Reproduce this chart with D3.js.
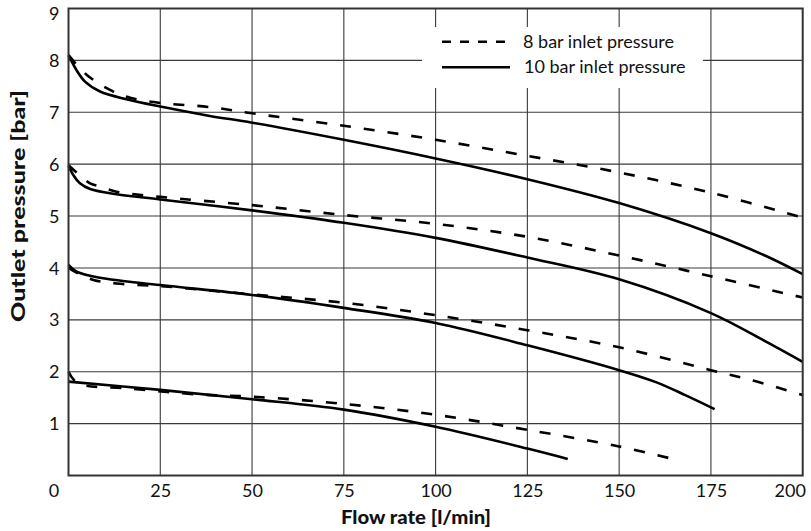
<!DOCTYPE html>
<html>
<head>
<meta charset="utf-8">
<script src="https://cdn.jsdelivr.net/npm/d3@7"></script>
<style>
  body { margin: 0; background: #fff; }
  svg text { font-family: Lato, "DejaVu Sans", sans-serif; fill: #111; }
</style>
</head>
<body>
<svg width="811" height="531"></svg>
<script>
// x ticks and y ticks
const xTicks = [0, 25, 50, 75, 100, 125, 150, 175, 200];
const yTicks = [1, 2, 3, 4, 5, 6, 7, 8, 9];

// [flow l/min, outlet bar]
// 8 bar inlet (dashed)
const dashed8 = [[0,8.1],[5,7.72],[11.3,7.43],[16.8,7.28],[25,7.18],[38.5,7.1],[50,6.98],[75,6.74],[100,6.47],[125,6.16],[150,5.84],[175,5.45],[200,4.97]];
const dashed6 = [[0,5.98],[2.2,5.84],[5.9,5.63],[8.6,5.57],[13.1,5.47],[25,5.37],[50,5.21],[75,5.02],[100,4.85],[125,4.6],[150,4.24],[175,3.84],[200,3.43]];
const dashed4 = [[0,4.0],[2.2,3.91],[6.8,3.77],[13.1,3.7],[25,3.65],[50,3.49],[75,3.33],[100,3.09],[125,2.8],[150,2.47],[175,2.03],[187.5,1.81],[200,1.55]];
const dashed2 = [[0,2.0],[2.5,1.78],[15.9,1.68],[35.8,1.56],[50,1.52],[75,1.38],[100,1.17],[125,0.88],[150,0.56],[164.5,0.32]];
// 10 bar inlet (solid)
const solid8 = [[0,8.1],[2.2,7.81],[4.5,7.59],[8.6,7.4],[15.8,7.25],[25,7.11],[38.5,6.93],[50,6.8],[75,6.47],[100,6.11],[125,5.71],[150,5.25],[175,4.67],[190,4.23],[200,3.88]];
const solid6 = [[0,5.98],[1.3,5.79],[3.1,5.63],[5.9,5.52],[13.1,5.42],[25,5.32],[50,5.11],[75,4.87],[100,4.58],[125,4.2],[150,3.78],[175,3.13],[190,2.58],[200,2.19]];
const solid4 = [[0,4.06],[2.2,3.93],[8.6,3.81],[25,3.67],[50,3.48],[75,3.23],[100,2.94],[125,2.51],[150,2.03],[160,1.8],[168,1.55],[176,1.28]];
const solid2 = [[0,1.81],[25,1.65],[50,1.47],[75,1.27],[100,0.94],[125,0.52],[136,0.32]];

const legendLabels = ["8 bar inlet pressure", "10 bar inlet pressure"];

const svg = d3.select("svg");
const mLeft = 68.5, mRight = 802.7, mTop = 8.5, mBottom = 475.5;

const x = d3.scaleLinear().domain([0, 200]).range([mLeft, mRight]);
const y = d3.scaleLinear().domain([0, 9]).range([mBottom, mTop]);

// grid
const grid = svg.append("g").attr("stroke", "#3a3a3a").attr("stroke-width", 1.1);
grid.selectAll(".vg").data(xTicks.slice(1, -1)).join("line")
    .attr("x1", d => x(d)).attr("x2", d => x(d))
    .attr("y1", mTop).attr("y2", mBottom);
grid.selectAll(".hg").data(yTicks.slice(0, -1)).join("line")
    .attr("x1", mLeft).attr("x2", mRight)
    .attr("y1", d => y(d)).attr("y2", d => y(d));

// legend background hides grid
svg.append("rect")
    .attr("x", 422).attr("y", 27).attr("width", 281).attr("height", 61)
    .attr("fill", "#fff");

// curves
const line = d3.line().x(d => x(d[0])).y(d => y(d[1])).curve(d3.curveCatmullRom.alpha(0.5));
const curves = svg.append("g").attr("fill", "none").attr("stroke", "#000")
    .attr("stroke-width", 2.6).attr("stroke-linejoin", "round");
curves.selectAll(".dash").data([dashed8, dashed6, dashed4, dashed2]).join("path")
    .attr("class", "dash")
    .attr("d", line).attr("stroke-dasharray", "11,13");
curves.selectAll(".solid").data([solid8, solid6, solid4, solid2]).join("path")
    .attr("class", "solid")
    .attr("d", line);

// frame
svg.append("rect")
    .attr("x", mLeft).attr("y", mTop)
    .attr("width", mRight - mLeft).attr("height", mBottom - mTop)
    .attr("fill", "none").attr("stroke", "#333").attr("stroke-width", 2);

// y axis labels
const yAxis = d3.axisLeft(y).tickValues(yTicks).tickSize(0).tickPadding(9);
const gy = svg.append("g").attr("transform", `translate(${mLeft},0)`).call(yAxis);
gy.select(".domain").remove();
gy.selectAll("text").style("font-size", "18px").attr("fill", "#111")
    .attr("dy", d => d === 9 ? "0.6em" : "0.34em");

// x axis labels
const xAxis = d3.axisBottom(x).tickValues(xTicks).tickSize(0).tickPadding(9);
const gx = svg.append("g").attr("transform", `translate(0,${mBottom})`).call(xAxis);
gx.select(".domain").remove();
gx.selectAll("text").style("font-size", "18px").attr("fill", "#111")
    .attr("dx", d => d === 0 ? -15 : d === 200 ? -13 : 0);

// axis titles
svg.append("text")
    .attr("x", 416).attr("y", 524)
    .attr("text-anchor", "middle")
    .attr("textLength", 150).attr("lengthAdjust", "spacingAndGlyphs")
    .style("font-size", "18px").style("font-weight", "900")
    .text("Flow rate [l/min]");
svg.append("text")
    .attr("transform", "translate(25,206) rotate(-90)")
    .attr("text-anchor", "middle")
    .attr("textLength", 232).attr("lengthAdjust", "spacingAndGlyphs")
    .style("font-size", "18px").style("font-weight", "900")
    .text("Outlet pressure [bar]");

// legend
const lg = svg.append("g");
lg.append("line").attr("x1", 442).attr("x2", 506).attr("y1", 41.7).attr("y2", 41.7)
    .attr("stroke", "#000").attr("stroke-width", 2.6).attr("stroke-dasharray", "9,9");
lg.append("line").attr("x1", 442).attr("x2", 510).attr("y1", 67.3).attr("y2", 67.3)
    .attr("stroke", "#000").attr("stroke-width", 2.6);
lg.selectAll("text").data(legendLabels).join("text")
    .attr("x", (d, i) => i === 0 ? 523 : 524)
    .attr("y", (d, i) => i === 0 ? 47.5 : 73)
    .style("font-size", "18px")
    .text(d => d);
</script>
</body>
</html>
